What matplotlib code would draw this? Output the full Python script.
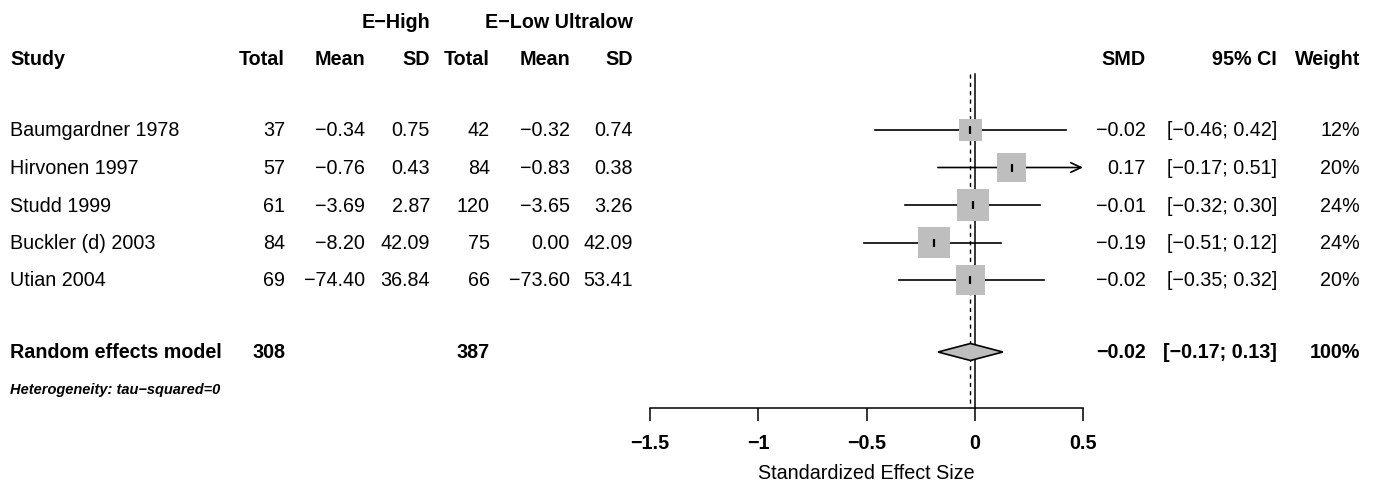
import numpy as np
import matplotlib
matplotlib.use("Agg")
import matplotlib.pyplot as plt
import matplotlib.transforms as mtransforms

plt.rcParams['font.family'] = ['Liberation Sans', 'DejaVu Sans']

# study level data
studies = ["Baumgardner 1978", "Hirvonen 1997", "Studd 1999", "Buckler (d) 2003", "Utian 2004"]
n_high = [37, 57, 61, 84, 69]
mean_high = [-0.34, -0.76, -3.69, -8.20, -74.40]
sd_high = [0.75, 0.43, 2.87, 42.09, 36.84]
n_low = [42, 84, 120, 75, 66]
mean_low = [-0.32, -0.83, -3.65, 0.00, -73.60]
sd_low = [0.74, 0.38, 3.26, 42.09, 53.41]
smd = [-0.02, 0.17, -0.01, -0.19, -0.02]
ci_lo = [-0.46, -0.17, -0.32, -0.51, -0.35]
ci_hi = [0.42, 0.51, 0.30, 0.12, 0.32]
weight = [12, 20, 24, 24, 20]

# pooled (random effects)
total_high = 308
total_low = 387
pooled = -0.02
pooled_lo = -0.17
pooled_hi = 0.13

xticks = [-1.5, -1, -0.5, 0, 0.5]

W, H = 1375, 489
FS = 14.2


def fmt(v, d=2):
    return f"{v:.{d}f}".replace("-", "\u2212")


fig = plt.figure(figsize=(W / 100, H / 100), dpi=100)
ax = fig.add_axes([650 / W, (H - 409) / H, 433 / W, 409 / H])

row_px = 37.5
first_px = 131
ax.set_xlim(-1.5, 0.5)
ax.set_ylim((409 - first_px) / row_px, (0 - first_px) / row_px)

rows = np.arange(len(studies))
y_pool = 5.92
y_het = 6.9
y_head = -1.9
y_group = -2.9
y_top = (75 - first_px) / row_px
y_bot = ax.get_ylim()[0]

for s in ['top', 'left', 'right']:
    ax.spines[s].set_visible(False)
ax.spines['bottom'].set_linewidth(1.1)
ax.set_yticks([])
ax.set_xticks(xticks)
ax.set_xticklabels([f"{t:g}".replace("-", "\u2212") for t in xticks],
                   fontsize=FS, fontweight='bold')
ax.tick_params(axis='x', direction='out', length=9, width=1.1, pad=9)
ax.set_xlabel("Standardized Effect Size", fontsize=FS, labelpad=8)

# reference lines
ax.plot([0, 0], [y_top, y_bot], color='black', lw=1.1, zorder=1, clip_on=False)
ax.plot([pooled, pooled], [y_top, y_bot], color='black', lw=1.0,
        ls=(0, (3, 3)), zorder=1, clip_on=False)

# confidence intervals, arrow where it runs off the scale
for i in range(len(studies)):
    if ci_hi[i] > 0.5:
        ax.annotate('', xy=(0.5, rows[i]), xytext=(ci_lo[i], rows[i]),
                    arrowprops=dict(arrowstyle='->, head_length=0.75, head_width=0.35',
                                    lw=1.2, color='black', shrinkA=0, shrinkB=0),
                    zorder=2, annotation_clip=False)
    else:
        ax.plot([ci_lo[i], ci_hi[i]], [rows[i], rows[i]], color='black', lw=1.2, zorder=2)

# weight boxes, side proportional to sqrt(weight)
side_pt = 6.5 * np.sqrt(weight) * 0.72
ax.scatter(smd, rows, marker='s', s=side_pt ** 2, color='#BEBEBE',
           edgecolors='none', zorder=3)
ax.scatter(smd, rows, marker='|', s=40, color='black', linewidths=1.6, zorder=4)

# pooled diamond
dh = 8.5 / row_px
ax.fill([pooled_lo, pooled, pooled_hi, pooled],
        [y_pool, y_pool - dh, y_pool, y_pool + dh],
        facecolor='#BEBEBE', edgecolor='black', lw=1.2, zorder=3)

# table text
tr = mtransforms.blended_transform_factory(fig.transFigure, ax.transData)


def put(px, y, s, ha='right', **kw):
    ax.text(px / W, y, s, transform=tr, ha=ha, va='center', fontsize=kw.pop('fs', FS), **kw)


put(430, y_group, "E\u2212High", fontweight='bold')
put(633, y_group, "E\u2212Low Ultralow", fontweight='bold')

headers = [(10, "Study", 'left'), (285, "Total", 'right'), (365, "Mean", 'right'),
           (430, "SD", 'right'), (490, "Total", 'right'), (570, "Mean", 'right'),
           (633, "SD", 'right'), (1146, "SMD", 'right'), (1277, "95% CI", 'right'),
           (1360, "Weight", 'right')]
for px, s, ha in headers:
    put(px, y_head, s, ha=ha, fontweight='bold')

for i, name in enumerate(studies):
    y = rows[i]
    put(10, y, name, ha='left')
    put(285, y, str(n_high[i]))
    put(365, y, fmt(mean_high[i]))
    put(430, y, fmt(sd_high[i]))
    put(490, y, str(n_low[i]))
    put(570, y, fmt(mean_low[i]))
    put(633, y, fmt(sd_low[i]))
    put(1146, y, fmt(smd[i]))
    put(1277, y, f"[{fmt(ci_lo[i])}; {fmt(ci_hi[i])}]")
    put(1360, y, f"{weight[i]}%")

put(10, y_pool, "Random effects model", ha='left', fontweight='bold')
put(285, y_pool, str(total_high), fontweight='bold')
put(490, y_pool, str(total_low), fontweight='bold')
put(1146, y_pool, fmt(pooled), fontweight='bold')
put(1277, y_pool, f"[{fmt(pooled_lo)}; {fmt(pooled_hi)}]", fontweight='bold')
put(1360, y_pool, "100%", fontweight='bold')

put(10, y_het, "Heterogeneity: tau\u2212squared=0", ha='left', fs=10.5,
    fontweight='bold', fontstyle='italic')

fig.savefig("out.png", dpi=100, facecolor='white')
